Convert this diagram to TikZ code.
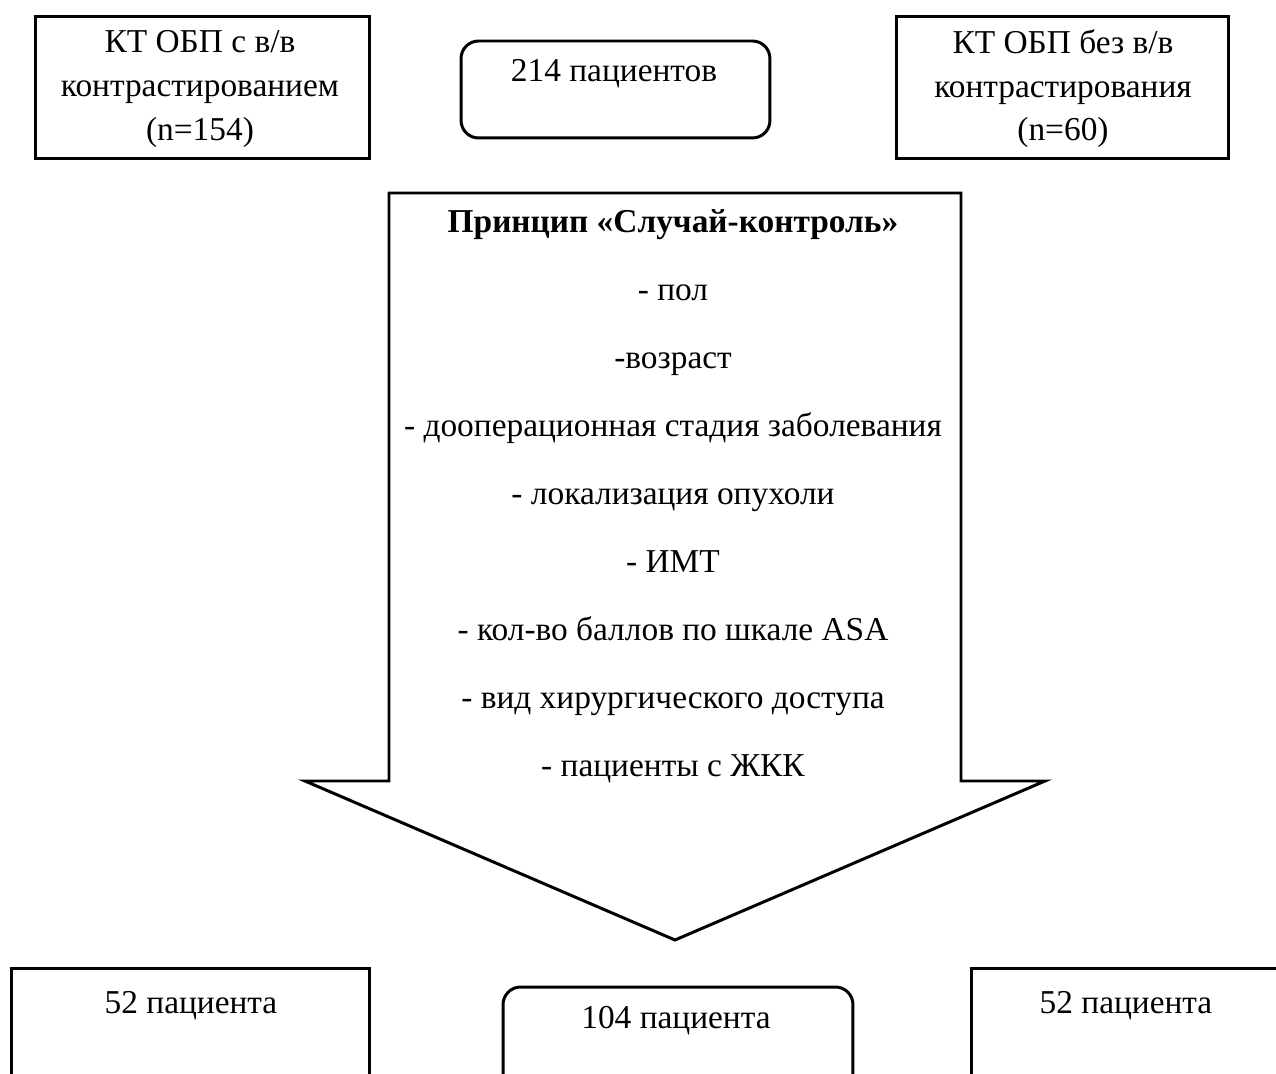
\documentclass[tikz,border=0pt]{standalone}
\usepackage{fontspec}
\setmainfont{Liberation Serif}
\usetikzlibrary{positioning}

\tikzset{
  sidebox/.style={draw,line width=1.7pt,inner sep=0pt},
  roundbox/.style={draw,line width=1.7pt,rounded corners=10pt,inner sep=0pt},
  txt/.style={font=\fontsize{19}{24.8}\selectfont,align=center,inner sep=0pt},
  line/.style={txt,anchor=base}
}

\begin{document}
\begin{tikzpicture}[x=0.02cm,y=-0.02cm]
  \useasboundingbox (0,0) rectangle (1276,1074);
  \clip (0,0) rectangle (1276,1074);

  % top row
  \node[sidebox,minimum width=6.7cm,minimum height=2.86cm] (contrast) at (202.5,87.5) {};
  \node[txt] (contrasttxt) at (200,89) {КТ ОБП с в/в\\контрастированием\\(n=154)};
  \node[roundbox,minimum width=6.18cm,minimum height=1.94cm] (total) at (615.5,89.5) {};
  \node[line] (totaltxt) at (614,82) {214 пациентов};
  \node[sidebox,minimum width=6.66cm,minimum height=2.86cm] (nocontrast) at (1062.5,87.5) {};
  \node[txt] (nocontrasttxt) at (1063,89) {КТ ОБП без в/в\\контрастирования\\(n=60)};

  % big arrow
  \draw[line width=1.7pt,line join=miter]
    (389,193) -- (961,193) -- (961,781) -- (1045,781) -- (675,940)
    -- (305,781) -- (389,781) -- cycle;
  \node[line] (principle) at (673,233) {\textbf{Принцип «Случай-контроль»}};
  \foreach \t [count=\i] in {- пол,-возраст,- дооперационная стадия заболевания,
      - локализация опухоли,- ИМТ,- кол-во баллов по шкале ASA,
      - вид хирургического доступа,- пациенты с ЖКК}
    \node[line] (crit\i) at (673,233+68*\i) {\t};

  % bottom row
  \node[sidebox,minimum width=7.18cm,minimum height=2.64cm] (groupa) at (190.5,1034) {};
  \node[line] (groupatxt) at (191,1013) {52 пациента};
  \node[roundbox,minimum width=7cm,minimum height=2.06cm] (matched) at (678,1038.5) {};
  \node[line] (matchedtxt) at (676,1028) {104 пациента};
  \node[sidebox,minimum width=6.38cm,minimum height=2.64cm] (groupb) at (1130.5,1034) {};
  \node[line] (groupbtxt) at (1126,1013) {52 пациента};
\end{tikzpicture}
\end{document}
